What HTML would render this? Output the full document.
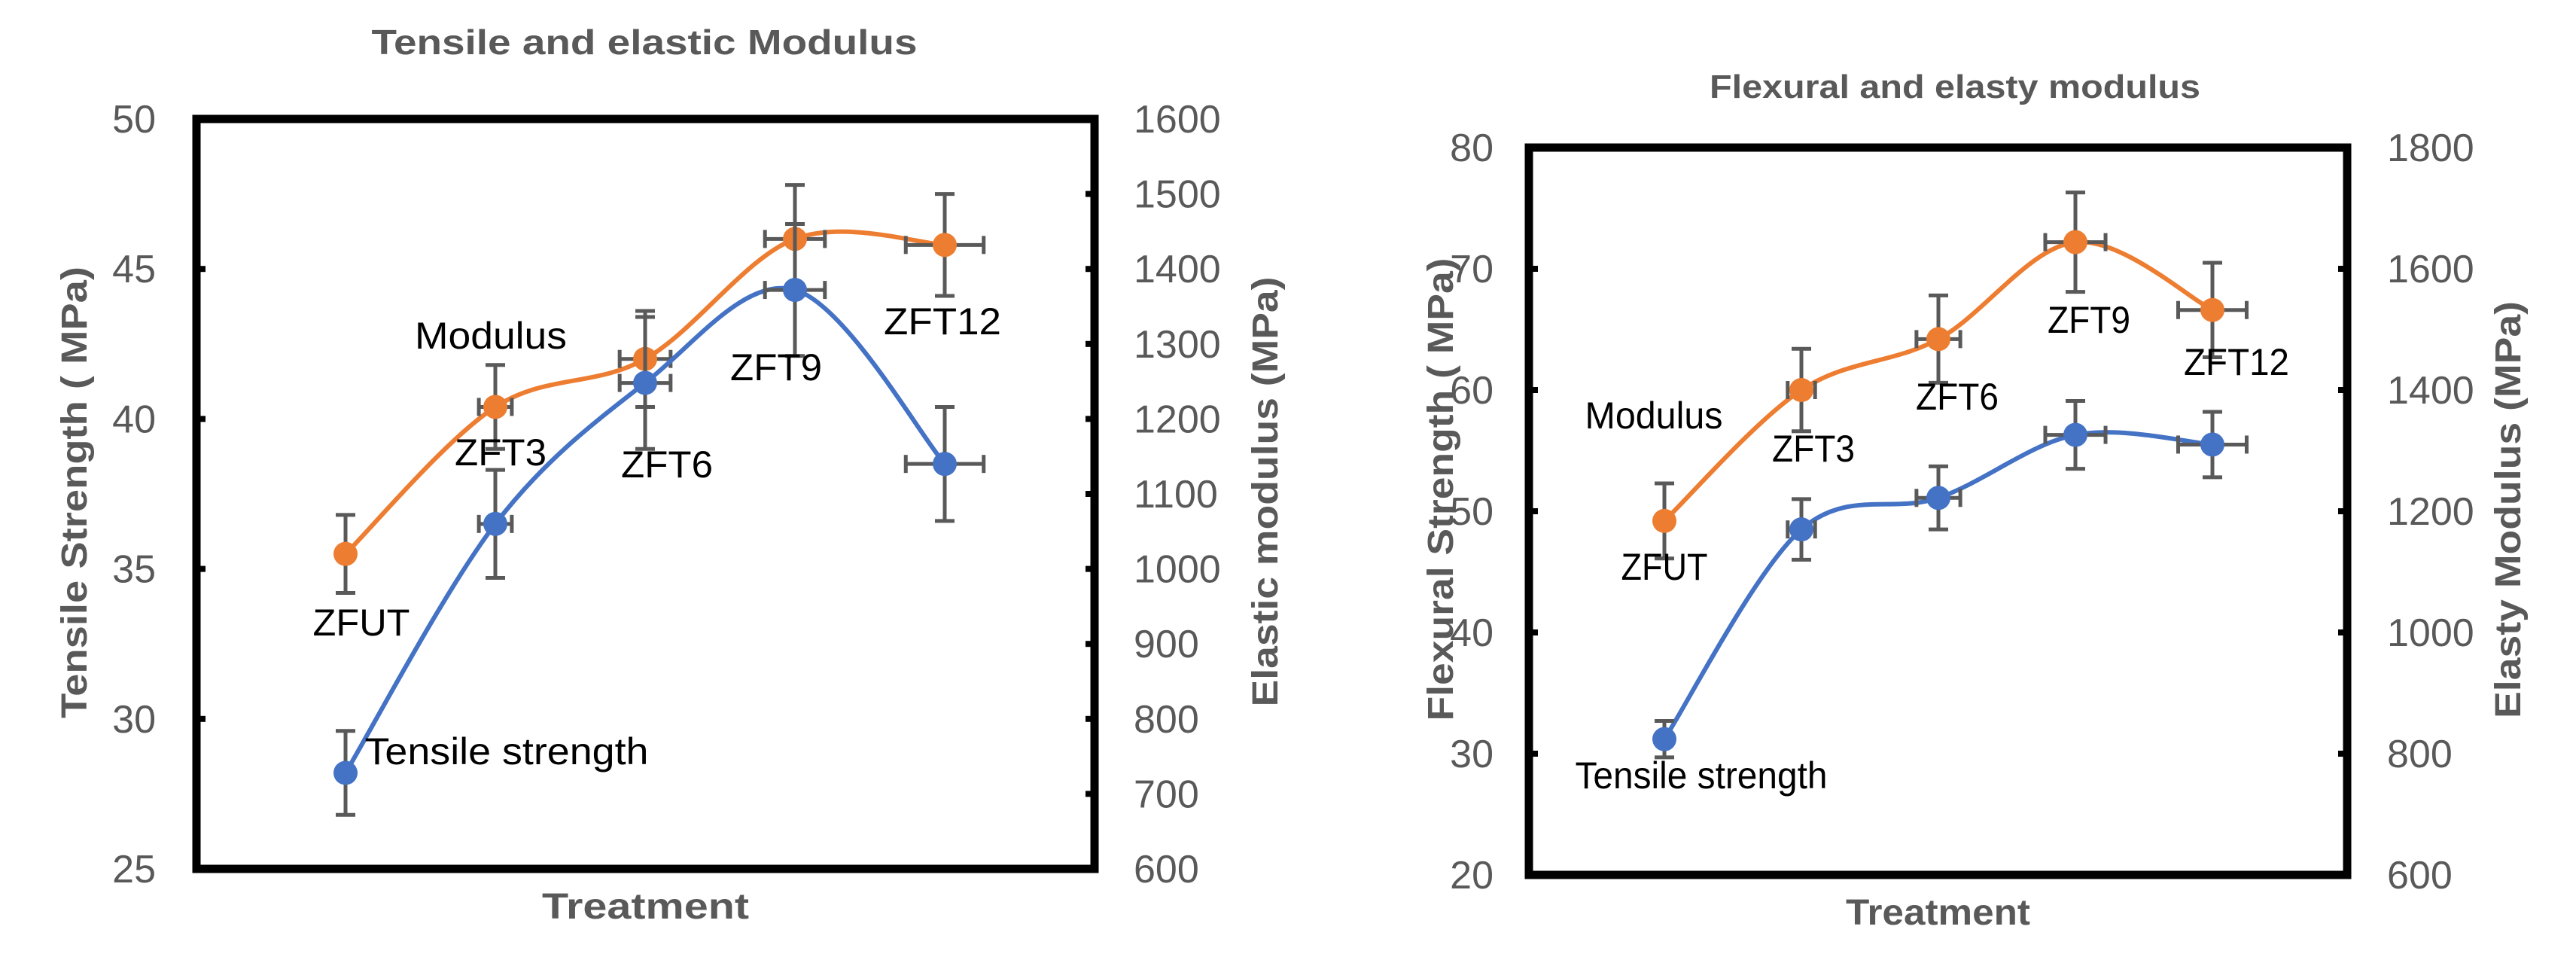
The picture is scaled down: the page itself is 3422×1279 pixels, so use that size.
<!DOCTYPE html>
<html><head><meta charset="utf-8"><style>
html,body{margin:0;padding:0;background:#fff;}
svg{display:block;font-family:"Liberation Sans",sans-serif;}
</style></head><body>
<svg id="fig" width="3422" height="1279" viewBox="0 0 3422 1279" xmlns="http://www.w3.org/2000/svg">
<rect x="0" y="0" width="3422" height="1279" fill="#fff"/>
</svg>
<script>
// ---- Chart 1 data: Tensile and elastic Modulus ----
const c1Categories = ["ZFUT","ZFT3","ZFT6","ZFT9","ZFT12"];
const c1Tensile = [28.2, 36.5, 41.2, 44.3, 38.5];
const c1TensileErr = [1.4, 1.8, 2.2, 2.2, 1.9];
const c1Modulus = [1020, 1216, 1280, 1440, 1432];
const c1ModulusErr = [52, 56, 64, 72, 68];
const c1XErr = [0, 0.11, 0.17, 0.2, 0.26];
const c1LeftTicks = [25, 30, 35, 40, 45, 50];
const c1RightTicks = [600, 700, 800, 900, 1000, 1100, 1200, 1300, 1400, 1500, 1600];
// ---- Chart 2 data: Flexural and elasty modulus ----
const c2Categories = ["ZFUT","ZFT3","ZFT6","ZFT9","ZFT12"];
const c2Flexural = [31.2, 48.5, 51.1, 56.3, 55.5];
const c2FlexuralErr = [1.5, 2.5, 2.6, 2.8, 2.7];
const c2Modulus = [1184, 1400, 1484, 1644, 1532];
const c2ModulusErr = [62, 68, 72, 82, 78];
const c2XErr = [0, 0.1, 0.16, 0.22, 0.25];
const c2LeftTicks = [20, 30, 40, 50, 60, 70, 80];
const c2RightTicks = [600, 800, 1000, 1200, 1400, 1600, 1800];

const NS = "http://www.w3.org/2000/svg";
const svg = document.getElementById("fig");
function mk(tag, attrs, parent){
  const e = document.createElementNS(NS, tag);
  for (const k in attrs) e.setAttribute(k, attrs[k]);
  (parent||svg).appendChild(e);
  return e;
}
function txt(s, attrs, parent){ const e = mk("text", attrs, parent); e.textContent = s; return e; }
function smooth(pts){
  let d = "M" + pts[0][0] + "," + pts[0][1];
  for (let i=0;i<pts.length-1;i++){
    const p0 = pts[Math.max(0,i-1)], p1 = pts[i], p2 = pts[i+1], p3 = pts[Math.min(pts.length-1,i+2)];
    const c1x = p1[0]+(p2[0]-p0[0])/6, c1y = p1[1]+(p2[1]-p0[1])/6;
    const c2x = p2[0]-(p3[0]-p1[0])/6, c2y = p2[1]-(p3[1]-p1[1])/6;
    d += " C"+c1x+","+c1y+" "+c2x+","+c2y+" "+p2[0]+","+p2[1];
  }
  return d;
}

function chart(cfg){
  const g = mk("g", {});
  
  
  const L=cfg.left, R=cfg.right, T=cfg.top, B=cfg.bottom;
  const yL = v => B - (v-cfg.lmin)/(cfg.lmax-cfg.lmin)*(B-T);
  const yR = v => B - (v-cfg.rmin)/(cfg.rmax-cfg.rmin)*(B-T);
  const xC = i => cfg.x0 + i*cfg.dx;
  const gray = "#595959";
  const t = txt(cfg.title, {x:cfg.titleX, y:cfg.titleY, "font-size":cfg.titleSize, "font-weight":"bold", fill:gray, "text-anchor":"middle", textLength:cfg.titleLen, lengthAdjust:"spacingAndGlyphs"}, g);
  
  
  cfg.lticks.forEach(v=>{
    const lab = txt(String(v), {x:L-cfg.lLabOff, y:yL(v)+18, "font-size":52, fill:gray, "text-anchor":"end"}, g);
    
    
    mk("line", {x1:L, x2:L+12, y1:yL(v), y2:yL(v), stroke:"#000", "stroke-width":8}, g);
  });
  cfg.rticks.forEach(v=>{
    const lab = txt(String(v), {x:R+cfg.rLabOff, y:yR(v)+18, "font-size":52, fill:gray, "text-anchor":"start"}, g);
    
    
    mk("line", {x1:R-12, x2:R, y1:yR(v), y2:yR(v), stroke:"#000", "stroke-width":8}, g);
  });
  const lt = txt(cfg.ltitle, {x:0, y:0, "font-size":48, "font-weight":"bold", fill:gray, "text-anchor":"middle", textLength:cfg.ltLen, lengthAdjust:"spacingAndGlyphs", transform:"translate("+cfg.ltX+","+cfg.ltY+") rotate(-90)"}, g);
  
  
  const rt = txt(cfg.rtitle, {x:0, y:0, "font-size":48, "font-weight":"bold", fill:gray, "text-anchor":"middle", textLength:cfg.rtLen, lengthAdjust:"spacingAndGlyphs", transform:"translate("+cfg.rtX+","+cfg.rtY+") rotate(-90)"}, g);
  
  
  const xt = txt("Treatment", {x:(L+R)/2, y:cfg.xtY, "font-size":48, "font-weight":"bold", fill:gray, "text-anchor":"middle", textLength:cfg.xtLen, lengthAdjust:"spacingAndGlyphs"}, g);
  
  

  function series(vals, errs, yf, color, nm){
    const pts = vals.map((v,i)=>[xC(i), yf(v)]);
    const p = mk("path", {d:smooth(pts), fill:"none", stroke:color, "stroke-width":6}, g);
    
    
    vals.forEach((v,i)=>{
      const x = xC(i), y1 = yf(v+errs[i]), y2 = yf(v-errs[i]);
      const eb = mk("g", {stroke:"#595959", "stroke-width":5}, g);
      
      
      mk("line", {x1:x, x2:x, y1:y1, y2:y2}, eb);
      mk("line", {x1:x-13, x2:x+13, y1:y1, y2:y1}, eb);
      mk("line", {x1:x-13, x2:x+13, y1:y2, y2:y2}, eb);
      const hx = cfg.xerr[i]*cfg.dx;
      if (hx>0){
        const yy = yf(v);
        mk("line", {x1:x-hx, x2:x+hx, y1:yy, y2:yy}, eb);
        mk("line", {x1:x-hx, x2:x-hx, y1:yy-12, y2:yy+12}, eb);
        mk("line", {x1:x+hx, x2:x+hx, y1:yy-12, y2:yy+12}, eb);
      }
    });
    vals.forEach((v,i)=>{
      const c = mk("circle", {cx:xC(i), cy:yf(v), r:16, fill:color}, g);
      
      
    });
  }
  series(cfg.mod, cfg.modErr, yR, "#ED7D31", "modulus");
  series(cfg.str, cfg.strErr, yL, "#4472C4", "strength");
  const fr = mk("rect", {x:L, y:T, width:R-L, height:B-T, fill:"none", stroke:"#000", "stroke-width":11}, g);
  
  
  cfg.labels.forEach(l=>{
    const e = txt(l[0], {x:l[1], y:l[2]+18, "font-size":50, fill:"#000", "text-anchor":"middle", textLength:l[3], lengthAdjust:"spacingAndGlyphs"}, g);
    
    
  });
}

chart({name:"tensile-chart", cats:c1Categories, left:261, right:1454, top:158, bottom:1154,
  lmin:25, lmax:50, rmin:600, rmax:1600, x0:459, dx:199,
  str:c1Tensile, strErr:c1TensileErr, mod:c1Modulus, modErr:c1ModulusErr, xerr:c1XErr,
  lticks:c1LeftTicks, rticks:c1RightTicks, rLabOff:52, lLabOff:54,
  title:"Tensile and elastic Modulus", titleX:856, titleY:72, titleSize:46, titleLen:725,
  ltitle:"Tensile Strength ( MPa)", ltX:115, ltY:654, ltLen:600,
  rtitle:"Elastic modulus (MPa)", rtX:1697, rtY:653, rtLen:571,
  xtY:1220, xtLen:275,
  labels:[["Modulus",652,445,202],["ZFT3",665,600,122],["ZFT6",886,616,122],["ZFT9",1031,487,122],["ZFT12",1252,426,156],["ZFUT",480,826,129],["Tensile strength",673,997,377]]
});
chart({name:"flexural-chart", cats:c2Categories, left:2031, right:3118, top:196, bottom:1162,
  lmin:20, lmax:80, rmin:600, rmax:1800, x0:2211, dx:182,
  str:c2Flexural, strErr:c2FlexuralErr, mod:c2Modulus, modErr:c2ModulusErr, xerr:c2XErr,
  lticks:c2LeftTicks, rticks:c2RightTicks, rLabOff:53, lLabOff:47,
  title:"Flexural and elasty modulus", titleX:2597, titleY:130, titleSize:44, titleLen:652,
  ltitle:"Flexural Strength ( MPa)", ltX:1930, ltY:650, ltLen:615,
  rtitle:"Elasty Modulus (MPa)", rtX:3348, rtY:677, rtLen:554,
  xtY:1228, xtLen:245,
  labels:[["Modulus",2197,551,183],["ZFT3",2409,595,110],["ZFT6",2600,526,110],["ZFT9",2775,424,110],["ZFT12",2971,480,140],["ZFUT",2211,752,115],["Tensile strength",2260,1029,335]]
});
</script>
</body></html>
